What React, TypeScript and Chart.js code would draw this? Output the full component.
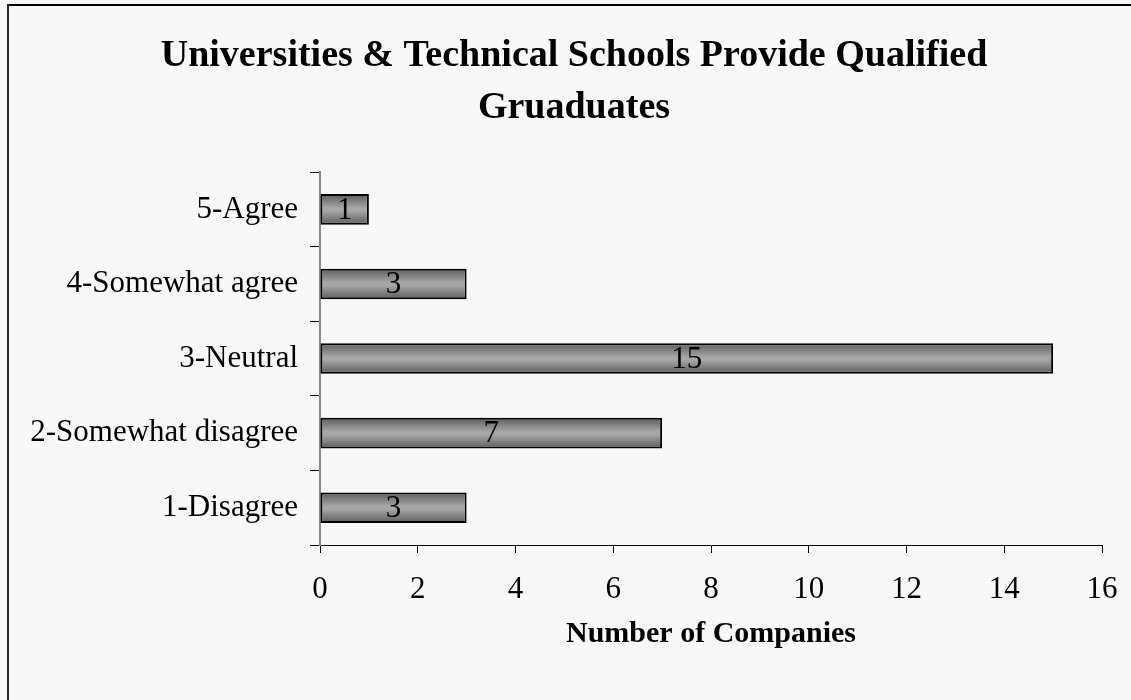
import React, { useEffect, useRef } from "react";
import { Chart, registerables } from "chart.js";

Chart.register(...registerables);

const categories = ["5-Agree", "4-Somewhat agree", "3-Neutral", "2-Somewhat disagree", "1-Disagree"];
const companyCounts = [1, 3, 15, 7, 3];
const titleLines = ["Universities & Technical Schools Provide Qualified", "Gruaduates"];
const xAxisTitle = "Number of Companies";
const xMin = 0;
const xMax = 16;
const xStep = 2;

const SERIF = "'Liberation Serif', 'Times New Roman', serif";
const BAR_PCT = 0.41;

const framePlugin = {
  id: "frame",
  beforeDraw(chart: any) {
    const c = chart.ctx;
    c.save();
    c.fillStyle = "#f8f8f8";
    c.fillRect(0, 0, chart.width, chart.height);
    c.fillStyle = "#000000";
    c.fillRect(7, 4, chart.width, 2);
    c.fillStyle = "#2a2a2a";
    c.fillRect(7, 4, 2, chart.height);
    c.restore();
  },
  afterLayout(chart: any) {
    const t = chart.titleBlock;
    if (t) {
      t.left = 17;
      t.right = 1131;
    }
  },
};

const valueLabelPlugin = {
  id: "valueLabels",
  afterDatasetsDraw(chart: any) {
    const c = chart.ctx;
    const meta = chart.getDatasetMeta(0);
    c.save();
    c.font = `31px ${SERIF}`;
    c.fillStyle = "#000000";
    c.textAlign = "center";
    c.textBaseline = "middle";
    meta.data.forEach((el: any, i: number) => {
      const cx = (el.x + el.base) / 2;
      c.fillText(String(companyCounts[i]), cx, el.y + 1);
    });
    c.restore();
  },
};

function barGradient(ctx: any) {
  const chart = ctx.chart;
  const y = chart.scales?.y;
  if (!y || ctx.dataIndex === undefined || !chart.chartArea) return "#888888";
  const center = y.getPixelForValue(ctx.dataIndex);
  const band = (y.bottom - y.top) / categories.length;
  const half = (band * BAR_PCT) / 2;
  const g = chart.ctx.createLinearGradient(0, center - half, 0, center + half);
  g.addColorStop(0, "#5c5c5c");
  g.addColorStop(0.45, "#a6a6a6");
  g.addColorStop(0.55, "#a6a6a6");
  g.addColorStop(1, "#5c5c5c");
  return g;
}

export default function App() {
  const ref = useRef<HTMLCanvasElement | null>(null);
  useEffect(() => {
    if (!ref.current) return;
    const chart = new Chart(ref.current, {
      type: "bar",
      data: {
        labels: categories,
        datasets: [
          {
            data: companyCounts,
            backgroundColor: barGradient as any,
            borderColor: "#000000",
            borderWidth: 2,
            borderSkipped: false,
            barPercentage: BAR_PCT,
            categoryPercentage: 1,
          },
        ],
      },
      options: {
        indexAxis: "y",
        responsive: false,
        animation: false,
        events: [],
        layout: { padding: { left: 0, right: 29, top: 0, bottom: 0 } },
        plugins: {
          legend: { display: false },
          tooltip: { enabled: false },
          title: {
            display: true,
            text: titleLines,
            color: "#000000",
            font: { family: SERIF, size: 38, weight: "bold", lineHeight: 1.37 },
            padding: { top: 30, bottom: 38 },
          },
        },
        scales: {
          x: {
            type: "linear",
            min: xMin,
            max: xMax,
            ticks: {
              stepSize: xStep,
              color: "#000000",
              font: { family: SERIF, size: 31 },
              padding: 18,
            },
            grid: { drawOnChartArea: false, color: "#000000", tickLength: 8, lineWidth: 1 },
            border: { color: "#000000", width: 1 },
            title: {
              display: true,
              text: xAxisTitle,
              color: "#000000",
              font: { family: SERIF, size: 30, weight: "bold", lineHeight: 1.2 },
              padding: { top: 0, bottom: 48 },
            },
            afterFit(scale: any) {
              scale.height = 155;
              scale.paddingLeft = 0;
              scale.paddingRight = 0;
            },
          },
          y: {
            type: "category",
            offset: true,
            ticks: {
              color: "#000000",
              font: { family: SERIF, size: 31 },
              padding: 12,
            },
            grid: { drawOnChartArea: false, color: "#000000", tickLength: 10, lineWidth: 1, offset: true },
            border: { color: "#8a8a8a", width: 2 },
            afterFit(scale: any) {
              scale.width = 320;
            },
          },
        },
      },
      plugins: [framePlugin, valueLabelPlugin],
    } as any);
    return () => chart.destroy();
  }, []);
  return (
    <div style={{ position: "fixed", left: 0, top: 0, width: 1131, height: 700, background: "#f8f8f8" }}>
      <canvas ref={ref} width={1131} height={700} style={{ display: "block", width: 1131, height: 700 }} />
    </div>
  );
}
